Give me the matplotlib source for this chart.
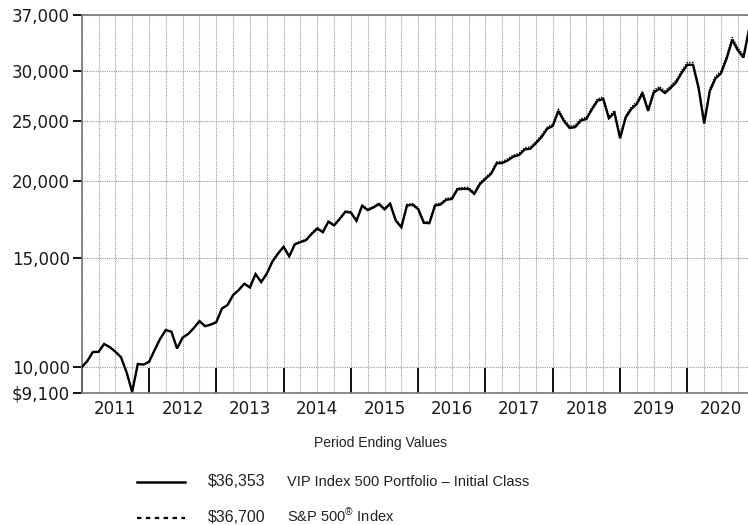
import numpy as np
import matplotlib.pyplot as plt
from matplotlib.lines import Line2D
from matplotlib.ticker import FixedLocator, FixedFormatter, NullLocator

plt.rcParams["mathtext.fontset"] = "custom"
plt.rcParams["mathtext.rm"] = "Liberation Sans"
plt.rcParams["mathtext.it"] = "Liberation Sans"

# month-end values of a $10,000 investment, Dec 2010 .. Dec 2020
fund = [10000,
        10236, 10586, 10590, 10903, 10779, 10598, 10382, 9818, 9127, 10123, 10100, 10202,
        10659, 11119, 11483, 11411, 10724, 11164, 11318, 11572, 11869, 11649, 11716, 11822,
        12433, 12601, 13073, 13324, 13635, 13451, 14134, 13723, 14153, 14803, 15254, 15638,
        15096, 15784, 15916, 16032, 16408, 16746, 16514, 17173, 16932, 17344, 17809, 17762,
        17228, 18218, 17928, 18099, 18331, 17974, 18350, 17242, 16815, 18233, 18286, 17996,
        17102, 17079, 18236, 18305, 18633, 18680, 19368, 19393, 19396, 19041, 19744, 20133,
        20514, 21327, 21351, 21569, 21871, 22005, 22456, 22524, 22986, 23520, 24240, 24507,
        25910, 24951, 24316, 24406, 24992, 25145, 26078, 26926, 27078, 25223, 25735, 23410,
        25284, 26093, 26597, 27673, 25914, 27739, 28136, 27690, 28205, 28815, 29858, 30757,
        30743, 28211, 24724, 27892, 29218, 29797, 31475, 33736, 32451, 31586, 35041, 36353]

sp500 = [10000,
         10237, 10588, 10592, 10906, 10783, 10603, 10388, 9824, 9133, 10131, 10109, 10212,
         10670, 11131, 11497, 11425, 10738, 11180, 11335, 11590, 11889, 11669, 11737, 11844,
         12458, 12627, 13101, 13354, 13666, 13483, 14169, 13758, 14190, 14843, 15296, 15683,
         15140, 15832, 15965, 16083, 16461, 16802, 16570, 17233, 16992, 17407, 17875, 17830,
         17295, 18290, 18001, 18174, 18408, 18051, 18430, 17319, 16891, 18317, 18372, 18082,
         17185, 17163, 18327, 18398, 18729, 18778, 19471, 19498, 19502, 19147, 19855, 20248,
         20633, 21452, 21478, 21699, 22005, 22141, 22597, 22667, 23134, 23673, 24400, 24671,
         26085, 25122, 24484, 24577, 25169, 25325, 26267, 27123, 27278, 25412, 25930, 23589,
         25479, 26297, 26807, 27893, 26122, 27964, 28367, 27919, 28441, 29058, 30113, 31022,
         31010, 28458, 24943, 28141, 29481, 30068, 31764, 34048, 32754, 31883, 35374, 36700]

years = ["2011", "2012", "2013", "2014", "2015", "2016", "2017", "2018", "2019", "2020"]
y_ticks = [9100, 10000, 15000, 20000, 25000, 30000, 37000]
y_labels = ["$9,100", "10,000", "15,000", "20,000", "25,000", "30,000", "37,000"]

legend_rows = [("\\$36,353", "VIP Index 500 Portfolio \u2013 Initial Class", "-"),
               ("\\$36,700", "S&P 500$^{\u00ae}$ Index", ":")]

months = np.arange(len(fund))

fig = plt.figure(figsize=(7.48, 5.25), dpi=100)
ax = fig.add_axes([81.7 / 748, 1 - 392.7 / 525, 1 - 81.7 / 748, (392.7 - 15) / 525])

ax.plot(months, fund, color="black", lw=1.7, solid_joinstyle="miter", zorder=3)
ax.plot(months, sp500, color="black", lw=1.0, ls=(0, (1, 1)), zorder=4)

ax.set_yscale("log")
ax.set_ylim(9100, 37000)
ax.set_xlim(0, (748 - 81.7) / 5.608)

ax.yaxis.set_major_locator(FixedLocator(y_ticks))
ax.yaxis.set_major_formatter(FixedFormatter(y_labels))
ax.yaxis.set_minor_locator(NullLocator())
ax.tick_params(axis="y", which="major", direction="out", length=6.5, width=1.3,
               color="black", labelsize=12, pad=2, labelcolor="#1a1a1a")

# year ticks (inward), quarterly minor ticks carry the grid and year labels
year_pos = list(range(0, 121, 12))
quarter_pos = [q for q in range(3, 121, 3) if q % 12 != 0]
ax.xaxis.set_major_locator(FixedLocator(year_pos))
ax.xaxis.set_major_formatter(FixedFormatter([""] * len(year_pos)))
ax.xaxis.set_minor_locator(FixedLocator(quarter_pos))
minor_labels = []
for q in quarter_pos:
    if q % 12 == 6:
        minor_labels.append(years[q // 12])
    else:
        minor_labels.append("")
ax.xaxis.set_minor_formatter(FixedFormatter(minor_labels))
ax.tick_params(axis="x", which="major", direction="in", length=18, width=1.3, color="black")
ax.tick_params(axis="x", which="minor", length=0, labelsize=12, pad=5, labelcolor="#1a1a1a")

ax.grid(axis="x", which="both", color="#9a9a9a", ls=(0, (1, 1)), lw=0.8)
ax.grid(axis="y", which="major", color="#9a9a9a", ls=(0, (1, 1)), lw=0.8)
ax.set_axisbelow(True)

for side in ["left", "top", "bottom"]:
    ax.spines[side].set_color("#777777")
    ax.spines[side].set_linewidth(1.2)
ax.spines["right"].set_visible(False)

# legend block
cond = ["Liberation Sans", "DejaVu Sans"]
fig.text(380 / 748, 1 - 443 / 525, "Period Ending Values", ha="center", va="center",
         fontsize=10, family=cond, color="#222222")
line_y = [482, 518]
base_y = [486.5, 521.5]
for k, (amount, name, style) in enumerate(legend_rows):
    yy = 1 - line_y[k] / 525
    yb = 1 - base_y[k] / 525
    fig.add_artist(Line2D([137 / 748, 185 / 748], [yy, yy], color="black",
                          lw=1.8 if style == "-" else 1.6,
                          ls="-" if style == "-" else (0, (2, 2))))
    fig.text(208 / 748, yb, amount, ha="left", va="baseline", fontsize=11.5, family=cond,
             color="#222222")
    fig.text(287 / 748, yb, name, ha="left", va="baseline", fontsize=10.5, family=cond,
             color="#222222")

plt.savefig("out.png", dpi=100)
plt.close()
